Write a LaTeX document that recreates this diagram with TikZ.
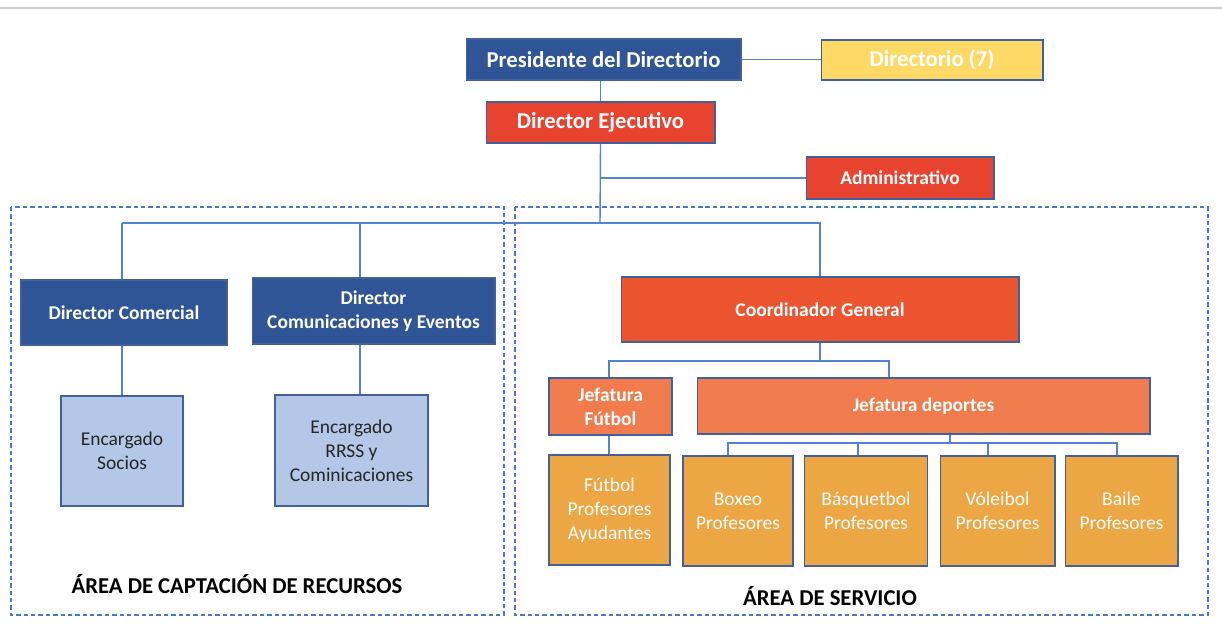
\documentclass[tikz,border=0pt]{standalone}
\usepackage{fontspec}
\setmainfont{Carlito}
\usetikzlibrary{
    calc,
    positioning
}
\definecolor{navy}{HTML}{2F5597}
\definecolor{gold}{HTML}{FFD966}
\definecolor{scarlet}{HTML}{E8432E}
\definecolor{tomato}{HTML}{EC5430}
\definecolor{coral}{HTML}{F07B4C}
\definecolor{amber}{HTML}{EDA644}
\definecolor{pale}{HTML}{B4C7E7}
\definecolor{rim}{HTML}{41619A}
\definecolor{wire}{HTML}{5283D2}
\definecolor{frame}{HTML}{4A78C6}
\tikzset{
    every picture/.style = {
        x = 0.02cm,
        y = -0.02cm
    },
    box/.style = {
        draw = rim,
        line width = 0.6pt,
        inner sep = 1pt,
        align = center,
        text = white,
        font = \fontsize{11.1}{13.6}\selectfont\bfseries
    },
    head/.style = {
        box,
        font = \fontsize{12.9}{14}\selectfont\bfseries
    },
    leaf/.style = {
        box,
        font = \fontsize{11.1}{13.6}\selectfont
    },
    link/.style = {
        draw = wire,
        line width = 0.8pt
    },
    area/.style = {
        draw = frame,
        line width = 0.6pt,
        dash pattern = on 2.5pt off 1.7pt
    },
    arealabel/.style = {
        font = \fontsize{12.9}{14}\selectfont\bfseries,
        text = black
    }
}

\begin{document}
\begin{tikzpicture}
    \useasboundingbox (0,0) rectangle (1222,641);
    \draw[black!20, line width = 1pt] (0,8) -- (1222,8);

    \draw[area] (11,207) rectangle (504,615);
    \draw[area] (515,207) rectangle (1208,615);

    \node[head, fill = navy, minimum width = 5.5cm, minimum height = 0.82cm] (pres) at (603.5,59.5) {Presidente del Directorio};
    \node[head, fill = gold, minimum width = 4.44cm, minimum height = 0.8cm] (dirio) at (932,60) {Directorio (7)};
    \node[head, fill = scarlet, minimum width = 4.58cm, minimum height = 0.82cm] (dejec) at (600.5,122.5) {Director Ejecutivo};
    \node[box, fill = scarlet, minimum width = 3.76cm, minimum height = 0.84cm] (admin) at (900,178) {Administrativo};

    \node[box, fill = navy, minimum width = 4.12cm, minimum height = 1.3cm] (dcom) at (124,312.5) {Director Comercial};
    \node[box, fill = navy, minimum width = 4.86cm, minimum height = 1.32cm] (dcev) at (373.5,311) {Director\\Comunicaciones y Eventos};
    \node[leaf, fill = pale, text = black!85, minimum width = 2.44cm, minimum height = 2.2cm] (esoc) at (122,451) {Encargado\\Socios};
    \node[leaf, fill = pale, text = black!85, minimum width = 3.06cm, minimum height = 2.22cm] (errss) at (351.5,450.5) {Encargado\\RRSS y\\Cominicaciones};

    \node[box, fill = tomato, minimum width = 7.96cm, minimum height = 1.3cm] (coord) at (820,309.5) {Coordinador General};
    \node[box, fill = coral, minimum width = 2.46cm, minimum height = 1.14cm] (jfut) at (610.5,406.5) {Jefatura\\Fútbol};
    \node[box, fill = coral, minimum width = 9.06cm, minimum height = 1.12cm] (jdep) at (923.5,406) {Jefatura deportes};

    \node[leaf, fill = amber, minimum width = 2.42cm, minimum height = 2.2cm] (pfut) at (609.5,510) {Fútbol\\Profesores\\Ayudantes};
    \node[leaf, fill = amber, minimum width = 2.2cm, minimum height = 2.2cm] (pbox) at (738,511) {Boxeo\\Profesores};
    \node[leaf, fill = amber, minimum width = 2.46cm, minimum height = 2.2cm] (pbas) at (866,511) {Básquetbol\\Profesores};
    \node[leaf, fill = amber, minimum width = 2.3cm, minimum height = 2.2cm] (pvol) at (997.5,511) {Vóleibol\\Profesores};
    \node[leaf, fill = amber, minimum width = 2.26cm, minimum height = 2.2cm] (pbai) at (1121.5,511) {Baile\\Profesores};

    \node[arealabel] (lcap) at (237,584) {ÁREA DE CAPTACIÓN DE RECURSOS};
    \node[arealabel] (lser) at (830,596) {ÁREA DE SERVICIO};

    \coordinate (trunk) at (600,223);
    \coordinate (com) at (122,223);
    \coordinate (cev) at (360,223);
    \coordinate (cg) at (820,361);
    \coordinate (jd) at (889,361);
    \coordinate (jf) at (609,361);
    \coordinate (dep) at (950,443);

    \draw[link] (pres.east) -- (pres.east -| dirio.west);
    \draw[link] (dejec.north |- pres.south) -- (dejec.north);
    \draw[link] (dejec.south) -- (trunk);
    \draw[link] (dejec.south |- admin.west) -- (admin.west);
    \draw[link] (com) -- (trunk -| coord.north) -- (coord.north);
    \draw[link] (com) -- (com |- dcom.north);
    \draw[link] (cev) -- (cev |- dcev.north);
    \draw[link] (com |- dcom.south) -- (com |- esoc.north);
    \draw[link] (cev |- dcev.south) -- (cev |- errss.north);

    \draw[link] (coord.south) -- (cg);
    \draw[link] (jf |- jfut.north) -- (jf) -- (jd) -- (jd |- jdep.north);
    \draw[link] (jf |- jfut.south) -- (jf |- pfut.north);
    \draw[link] (dep |- jdep.south) -- (dep);
    \draw[link] (728,443 |- pbox.north) -- (728,443) -- (1117,443) -- (1117,443 |- pbai.north);
    \draw[link] (858,443) -- (858,443 |- pbas.north);
    \draw[link] (988,443) -- (988,443 |- pvol.north);
\end{tikzpicture}
\end{document}
